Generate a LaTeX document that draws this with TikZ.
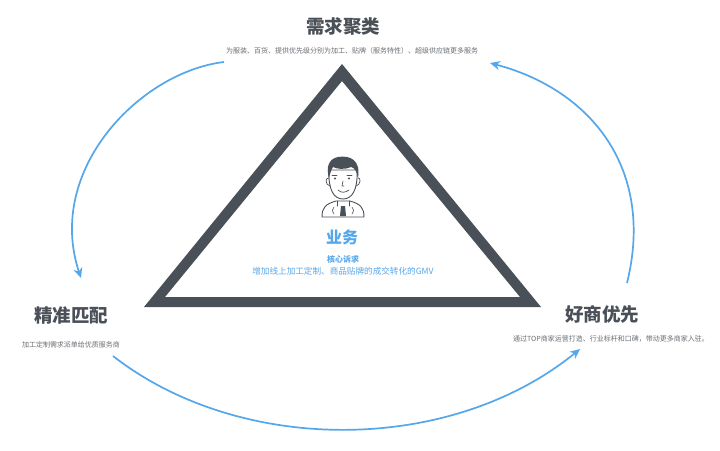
\documentclass[tikz,border=0pt]{standalone}
\usepackage{fontspec}
\setmainfont{Noto Sans CJK SC}
\usetikzlibrary{arrows.meta}
\definecolor{dk}{HTML}{4A5058}
\definecolor{blu}{HTML}{55A7EC}
\definecolor{gtx}{HTML}{6A6E73}
\tikzset{
 head/.style={font=\fontsize{18.5}{20}\selectfont\bfseries,text=dk,inner sep=0pt},
 sub/.style={font=\fontsize{7}{8}\selectfont,text=gtx,inner sep=0pt},
 arc/.style={draw=blu,line width=1.7pt,-{Stealth[length=10pt,width=9pt]}},
 ic/.style={draw=dk,line width=.9pt,line join=round,line cap=round}
}
\begin{document}
\begin{tikzpicture}[x=1pt,y=-1pt]
\useasboundingbox (0,0) rectangle (720,450);
\fill[white] (0,0) rectangle (720,450);
\fill[dk,even odd rule] (342,64) -- (541,307) -- (144,307) -- cycle
 (342,81) -- (165,297) -- (520,297) -- cycle;
\node[head] (t1) at (343,26) {需求聚类};
\node[sub] (s1) at (352,51) {为服装、百货、提供优先级分别为加工、贴牌（服务特性）、超级供应链更多服务};
\node[head] (t2) at (71,315) {精准匹配};
\node[sub] (s2) at (71,345) {加工定制需求派单给优质服务商};
\node[head] (t3) at (602,314) {好商优先};
\node[sub] (s3) at (611,338.5) {通过TOP商家运营打造、行业标杆和口碑，带动更多商家入驻。};
\node[font=\fontsize{16}{17}\selectfont\bfseries,text=blu,inner sep=0pt] (t4) at (342,237.5) {业务};
\node[font=\fontsize{8}{9}\selectfont\bfseries,text=blu,inner sep=0pt] (s4) at (343,259.5) {核心诉求};
\node[font=\fontsize{8.6}{9}\selectfont,text=blu,inner sep=0pt] (s5) at (343,271.5) {增加线上加工定制、商品贴牌的成交转化的GMV};
\coordinate (a1) at (224,62); \coordinate (b1) at (81,278);
\coordinate (a2) at (627,283); \coordinate (b2) at (490,63);
\coordinate (a3) at (113,356); \coordinate (b3) at (580,349);
\draw[arc] (a1) .. controls (140,72) and (45,170) .. (b1);
\draw[arc] (a2) .. controls (655,170) and (592,90) .. (b2);
\draw[arc] (a3) .. controls (240,455) and (450,455) .. (b3);
% person
\draw[ic,fill=white] (322,217) .. controls (322,207) and (326,204) .. (336,201) -- (350,201) .. controls (360,204) and (364,207) .. (364,217) -- cycle;
\draw[ic,fill=white] (329,170) .. controls (328,190) and (334,199) .. (343,199) .. controls (352,199) and (358,190) .. (357,170) -- cycle;
\fill[dk] (329,178) .. controls (326,168) and (328,159) .. (338,157) .. controls (350,155) and (361,160) .. (358,178) .. controls (357,172) and (355,168) .. (351,167) .. controls (344,170) and (337,169) .. (333,167) .. controls (331,170) and (330,174) .. (329,178) -- cycle;
\draw[ic,line width=.7pt] (329,178) .. controls (325,177) and (325,185) .. (330,186);
\draw[ic,line width=.7pt] (358,178) .. controls (361,177) and (361,185) .. (356,186);
\fill[dk] (335,178.5) circle (1.1) (349,178.5) circle (1.1);
\draw[ic,line width=.6pt] (332,175) -- (337,175) (347,175) -- (352,175);
\draw[ic,line width=.6pt] (343,181) -- (342,186) -- (344,186);
\draw[ic,line width=.7pt] (338,190) .. controls (341,193) and (345,193) .. (349,190);
\fill[dk] (341,206) -- (345,206) -- (346,216) -- (340,216) -- cycle;
\draw[ic,line width=.6pt] (334,207) .. controls (332,209) and (332,211) .. (334,214);
\draw[ic,line width=.6pt] (352,207) .. controls (354,209) and (354,211) .. (352,214);
\draw[ic,line width=.6pt] (337,201) -- (337,206) (349,201) -- (349,206);
\end{tikzpicture}
\end{document}
